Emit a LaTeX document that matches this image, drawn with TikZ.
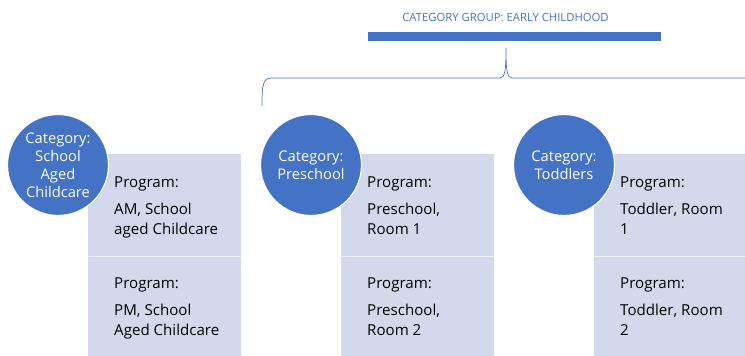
\documentclass[tikz,border=0pt]{standalone}
\usepackage{fontspec}
\setmainfont{Open Sans}
\definecolor{acc}{HTML}{4472C4}
\definecolor{cellfill}{HTML}{D4D8EB}
\begin{document}
\begin{tikzpicture}[x=1pt,y=-1pt,
  cat/.style={circle,fill=acc,draw=white,line width=1.2pt,minimum size=101pt,inner sep=0pt,
    text=white,align=center,font=\fontsize{14.7}{18}\selectfont},
  cell/.style={rectangle,fill=cellfill,draw=none,minimum width=153pt,anchor=north west,inner sep=0pt},
  prog/.style={anchor=north west,align=left,inner sep=0pt,font=\fontsize{15.1}{20}\selectfont,text=black},
  divider/.style={draw=white!60!cellfill,line width=0.8pt}]
\useasboundingbox (0,0) rectangle (745,356);
% title and bar
\node[text=acc,font=\fontsize{11.3}{13}\selectfont] (title) at (505.5,17) {CATEGORY GROUP: EARLY CHILDHOOD};
\node[fill=acc,minimum width=293pt,minimum height=9pt,inner sep=0pt] (bar) at (514.5,36.5) {};
% brace
\coordinate (bl) at (262,106);
\coordinate (br) at (750,78);
\draw[acc,line width=0.7pt] (bl) .. controls (262,84) and (263,78) .. (272,78)
  -- (500,78) .. controls (505,78) and (506,70) .. (506,48)
  .. controls (506,70) and (507,78) .. (512,78) -- (br);
% cells
\foreach \n/\x in {a/88,b/341,c/594}{
  \node[cell,minimum height=102pt] (\n1) at (\x,154) {};
  \node[cell,minimum height=102pt] (\n2) at (\x,256) {};
  \draw[divider] (\n1.south west) -- (\n1.south east);
}
% circles
\node[cat] (ca) at (58,165) {Category:\\School\\Aged\\Childcare};
\node[cat] (cb) at (311,165) {Category:\\Preschool};
\node[cat] (cc) at (564,165) {Category:\\Toddlers};
% program texts
\node[prog] (pa1) at (114,177) {Program:\\[7pt]AM, School\\aged Childcare};
\node[prog] (pa2) at (114,278) {Program:\\[7pt]PM, School\\Aged Childcare};
\node[prog] (pb1) at (367,177) {Program:\\[7pt]Preschool,\\Room 1};
\node[prog] (pb2) at (367,278) {Program:\\[7pt]Preschool,\\Room 2};
\node[prog] (pc1) at (620,177) {Program:\\[7pt]Toddler, Room\\1};
\node[prog] (pc2) at (620,278) {Program:\\[7pt]Toddler, Room\\2};
\end{tikzpicture}
\end{document}
